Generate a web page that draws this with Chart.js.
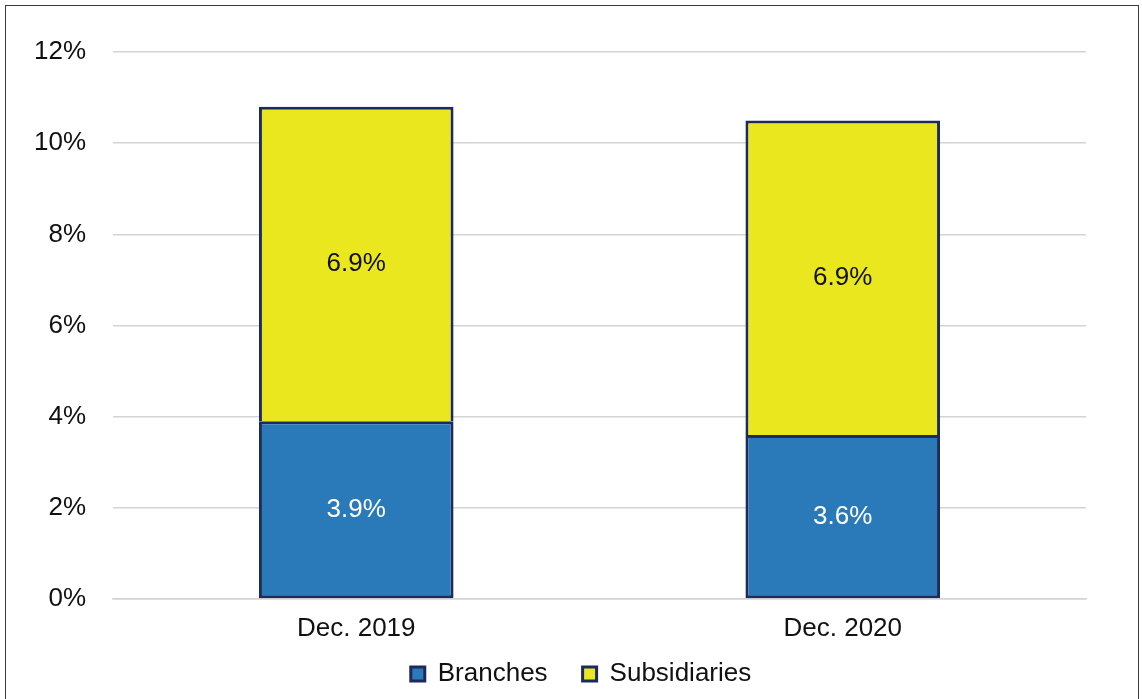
<!DOCTYPE html>
<html>
<head>
<meta charset="utf-8">
<script src="https://cdn.jsdelivr.net/npm/chart.js@4/dist/chart.umd.min.js"></script>
<style>
  html, body { margin: 0; padding: 0; background: #fff; }
  #wrap { position: relative; width: 1142px; height: 699px; overflow: hidden; }
  #chart { position: absolute; left: 0; top: 0; }
  #frame { position: absolute; left: 5px; top: 5px; width: 1132px; height: 760px;
           border: 1.5px solid #3a3a3a; pointer-events: none; }
</style>
</head>
<body>
<div id="wrap">
  <canvas id="chart" width="1142" height="699"></canvas>
  <div id="frame"></div>
</div>
<script>
// Categories and stacked series (percent)
const categories = ['Dec. 2019', 'Dec. 2020'];
const branches = [3.9, 3.6];
const subsidiaries = [6.9, 6.9];
const yTicks = [0, 2, 4, 6, 8, 10, 12];

const FONT = '"Liberation Sans", Arial, Helvetica, sans-serif';
const FS = 26;
const NAVY = '#1d2b5c';

// Tick labels may spill past their axis box (the legend band sits close below)
const unclipLabels = scale => { scale._computeLabelArea = () => undefined; };

// Writes each segment's value in the middle of its bar
const segmentLabels = {
  id: 'segmentLabels',
  afterDatasetsDraw(chart) {
    const ctx = chart.ctx;
    ctx.save();
    ctx.font = FS + 'px ' + FONT;
    ctx.textAlign = 'center';
    ctx.textBaseline = 'middle';
    chart.data.datasets.forEach((ds, i) => {
      const meta = chart.getDatasetMeta(i);
      meta.data.forEach((bar, j) => {
        const { x, y, base } = bar.getProps(['x', 'y', 'base'], true);
        ctx.fillStyle = ds.labelColor;
        ctx.fillText(ds.data[j].toFixed(1) + '%', x, (y + base) / 2);
      });
    });
    ctx.restore();
  }
};

new Chart(document.getElementById('chart'), {
  type: 'bar',
  data: {
    labels: categories,
    datasets: [
      { label: 'Branches', data: branches, backgroundColor: '#2a79b9',
        borderColor: NAVY, borderWidth: 3, borderSkipped: false, labelColor: '#ffffff' },
      { label: 'Subsidiaries', data: subsidiaries, backgroundColor: '#ebe71f',
        borderColor: NAVY, borderWidth: 3, borderSkipped: 'start', labelColor: '#111111' }
    ]
  },
  options: {
    responsive: false,
    animation: false,
    events: [],
    layout: { padding: { top: 52, right: 56, left: 76, bottom: 2 } },
    datasets: { bar: { categoryPercentage: 1, barPercentage: 0.4 } },
    scales: {
      x: {
        stacked: true,
        grid: { display: false },
        border: { display: true, color: '#d4d4d4', width: 1.5 },
        ticks: { color: '#111', font: { family: FONT, size: FS }, padding: 6 },
        afterFit(scale) { scale.height = 27; unclipLabels(scale); }
      },
      y: {
        stacked: true,
        min: 0, max: 12,
        afterBuildTicks(scale) { scale.ticks = yTicks.map(v => ({ value: v })); },
        grid: { color: '#d4d4d4', lineWidth: 1.5, drawTicks: false },
        border: { display: false },
        ticks: { color: '#111', font: { family: FONT, size: FS }, padding: 27,
                 callback: v => v + '%' },
        afterFit(scale) { scale.width = 37; unclipLabels(scale); }
      }
    },
    plugins: {
      legend: {
        position: 'bottom',
        labels: { boxWidth: 14, boxHeight: 14, padding: 35, color: '#111',
                  font: { family: FONT, size: FS } }
      },
      tooltip: { enabled: false }
    }
  },
  plugins: [segmentLabels]
});
</script>
</body>
</html>
